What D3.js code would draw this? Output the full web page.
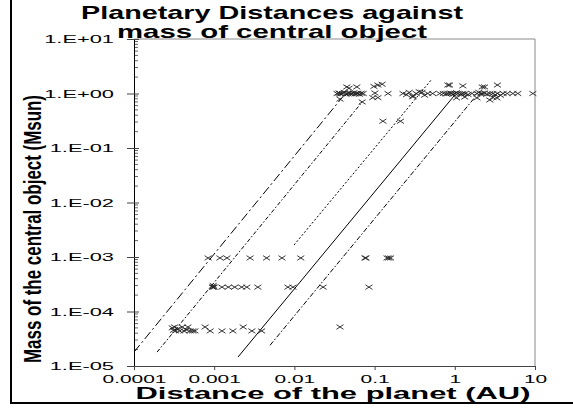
<!DOCTYPE html>
<html>
<head>
<meta charset="utf-8">
<script src="https://cdn.jsdelivr.net/npm/d3@7"></script>
<style>
  body { margin: 0; background: #fff; }
  svg { font-family: Arial, "Liberation Sans", sans-serif; }
</style>
</head>
<body>
<div id="chart"></div>
<script>
// axis ticks
var xTicks = [0.0001, 0.001, 0.01, 0.1, 1, 10];
var xTickLabels = ["0.0001", "0.001", "0.01", "0.1", "1", "10"];
var yTicks = [1e-5, 1e-4, 1e-3, 1e-2, 1e-1, 1, 10];
var yTickLabels = ["1.E-05", "1.E-04", "1.E-03", "1.E-02", "1.E-01", "1.E+00", "1.E+01"];

// planets: [distance (AU), mass of central object (Msun)]
var solarHosts = [
  [0.034,1.0],[0.036,1.02],[0.037,1.0],[0.038,0.98],[0.040,1.0],[0.042,1.05],[0.044,0.97],[0.046,1.0],
  [0.048,1.02],[0.050,0.99],[0.052,1.0],[0.055,1.03],[0.057,0.98],[0.060,1.0],[0.062,1.0],[0.065,0.97],
  [0.068,1.01],[0.072,1.0],[0.045,1.32],[0.048,1.25],[0.060,1.32],[0.037,0.79],[0.070,0.70],
  [0.101,1.02],[0.110,1.43],[0.124,1.48],[0.147,1.0],[0.095,0.84],[0.110,0.84],[0.098,1.35],
  [0.226,1.0],[0.25,0.95],[0.27,1.05],[0.30,0.9],[0.30,0.87],[0.33,1.0],[0.36,1.08],[0.39,1.05],
  [0.42,0.93],[0.46,1.0],[0.53,1.0],
  [0.65,1.0],[0.72,1.0],[0.78,0.98],[0.82,1.0],[0.88,1.02],[0.91,1.0],[0.95,0.97],[1.0,1.0],
  [1.05,1.03],[1.1,1.0],[1.2,0.98],[1.26,1.0],[1.35,1.0],[1.46,0.96],[1.64,1.0],
  [0.82,1.43],[0.86,1.43],[1.26,1.38],[1.05,0.83],[1.33,0.86],
  [1.89,1.0],[2.0,1.05],[2.1,0.98],[2.2,1.0],[2.35,1.02],[2.5,0.97],[2.73,1.0],[2.98,1.0],
  [3.2,0.95],[3.4,1.0],[3.7,0.93],[4.0,1.0],[2.2,1.32],[2.35,1.32],[3.4,1.43],[1.89,0.83],
  [2.73,0.76],[2.98,0.85],[3.35,0.83],[4.5,1.0],[5.3,1.0],[6.1,1.0],[9.4,1.0],
  [0.127,0.31],[0.21,0.31]
];
var jupiterHosts = [
  [8.4e-4,9.6e-4],[1.18e-3,9.6e-4],[1.44e-3,9.6e-4],[2.8e-3,9.6e-4],[4.5e-3,9.6e-4],[7.0e-3,9.6e-4],
  [0.012,9.6e-4],[0.076,9.6e-4],[0.078,9.6e-4],[0.143,9.6e-4],[0.150,9.6e-4],[0.158,9.6e-4]
];
var saturnHosts = [
  [9.5e-4,2.8e-4],[9.7e-4,2.8e-4],[9.7e-4,3.0e-4],[1.0e-3,2.8e-4],[1.25e-3,2.8e-4],[1.5e-3,2.8e-4],
  [1.8e-3,2.8e-4],[2.2e-3,2.8e-4],[2.55e-3,2.8e-4],[3.5e-3,2.8e-4],[8.3e-3,2.8e-4],[9.6e-3,2.8e-4],
  [0.0228,2.8e-4],[0.085,2.8e-4]
];
var smallHosts = [
  [3.0e-4,5.0e-5],[3.1e-4,4.5e-5],[3.2e-4,5.2e-5],[3.3e-4,4.4e-5],[3.5e-4,4.8e-5],[3.7e-4,4.4e-5],
  [4.0e-4,5.2e-5],[4.2e-4,4.4e-5],[4.5e-4,4.6e-5],[4.7e-4,5.2e-5],[5.0e-4,4.4e-5],[5.4e-4,4.4e-5],
  [5.75e-4,4.4e-5],[7.7e-4,5.2e-5],[8.9e-4,4.4e-5],[1.25e-3,4.4e-5],[1.71e-3,4.4e-5],[2.3e-3,5.2e-5],
  [2.95e-3,4.4e-5],[3.9e-3,4.4e-5],[0.037,5.2e-5]
];

// reference lines, end points [distance, mass]
var lineA = [[1.0e-4,1.8e-5],[0.039,0.83]];
var lineB = [[1.94e-4,1.8e-5],[0.070,0.70]];
var lineC = [[0.0099,1.66e-3],[0.52,1.85]];
var lineD = [[1.98e-3,1.46e-5],[1.0,0.94]];
var lineE = [[4.97e-3,2.4e-5],[1.79,0.86]];

var W = 573, H = 410;
var svg = d3.select("#chart").append("svg").attr("width", W).attr("height", H);

var x = d3.scaleLog().domain([1e-4, 10]).range([134, 535]);
var y = d3.scaleLog().domain([1e-5, 10]).range([366, 39]);
var sx = 1.9; // horizontal stretch of the tick lettering

// outer frame (left and bottom only)
svg.append("path").attr("d", "M11,0V403H573")
  .style("fill", "none").style("stroke", "#000").style("stroke-width", 2);

// plot area frame top / right
svg.append("path").attr("d", "M" + x(1e-4) + "," + y(10) + "H" + x(10) + "V" + y(1e-5))
  .style("fill", "none").style("stroke", "#8a8a8a").style("stroke-width", 1);

// minor y ticks
var minor = [];
yTicks.slice(0, -1).forEach(function(d) { for (var k = 2; k <= 9; k++) minor.push(d * k); });
svg.append("g").selectAll("line").data(minor).enter().append("line")
  .attr("x1", x(1e-4)).attr("x2", x(1e-4) + 4)
  .attr("y1", function(d) { return y(d); }).attr("y2", function(d) { return y(d); })
  .style("stroke", "#666").style("stroke-width", 1);

// x axis
var gx = svg.append("g").attr("transform", "translate(0," + y(1e-5) + ")")
  .call(d3.axisBottom(x).tickValues(xTicks).tickSize(4).tickSizeOuter(0)
    .tickFormat(function(d, i) { return xTickLabels[i]; }));
gx.select(".domain").style("stroke", "#444");
gx.selectAll(".tick line").style("stroke", "#444");
gx.selectAll("text").attr("y", 9.5).style("font-size", "11px").style("fill", "#000")
  .attr("transform", "scale(" + sx + ",1)");

// y axis
var gy = svg.append("g").attr("transform", "translate(" + x(1e-4) + ",0)")
  .call(d3.axisLeft(y).tickValues(yTicks).tickSize(7).tickSizeOuter(0)
    .tickFormat(function(d, i) { return yTickLabels[i]; }));
gy.select(".domain").style("stroke", "#000");
gy.selectAll(".tick line").attr("x2", -7).attr("x1", 5).style("stroke", "#444");
gy.selectAll("text").attr("x", -20 / sx).style("font-size", "11.5px").style("fill", "#000")
  .attr("transform", "scale(" + sx + ",1)");

// reference lines
var line = d3.line().x(function(d) { return x(d[0]); }).y(function(d) { return y(d[1]); });
var refLines = [
  {pts: lineA, dash: "9,3,2,3"},
  {pts: lineB, dash: "4,2,1.5,2"},
  {pts: lineC, dash: "2,2"},
  {pts: lineD, dash: null},
  {pts: lineE, dash: "5,2,1.5,2"}
];
refLines.forEach(function(l) {
  svg.append("path").datum(l.pts).attr("d", line)
    .style("fill", "none").style("stroke", "#000").style("stroke-width", 1)
    .style("stroke-dasharray", l.dash);
});

// planet markers (x crosses)
var allPts = solarHosts.concat(jupiterHosts, saturnHosts, smallHosts);
svg.append("g").selectAll("path").data(allPts).enter().append("path")
  .attr("transform", function(d) { return "translate(" + x(d[0]) + "," + y(d[1]) + ")"; })
  .attr("d", "M-3.5,-2.3L3.5,2.3M-3.5,2.3L3.5,-2.3")
  .style("fill", "none").style("stroke", "#222").style("stroke-width", 0.9);

// titles
svg.append("text").attr("x", 272).attr("y", 18.5).attr("text-anchor", "middle")
  .attr("textLength", 382).attr("lengthAdjust", "spacingAndGlyphs")
  .style("font-size", "19px").style("font-weight", "bold")
  .text("Planetary Distances against");
svg.append("text").attr("x", 272).attr("y", 37.5).attr("text-anchor", "middle")
  .attr("textLength", 310).attr("lengthAdjust", "spacingAndGlyphs")
  .style("font-size", "19px").style("font-weight", "bold")
  .text("mass of central object");
svg.append("text").attr("x", 333).attr("y", 398.5).attr("text-anchor", "middle")
  .attr("textLength", 395).attr("lengthAdjust", "spacingAndGlyphs")
  .style("font-size", "16px").style("font-weight", "bold")
  .text("Distance of the planet (AU)");
svg.append("text").attr("transform", "translate(41,229) scale(1.6,1) rotate(-90)")
  .attr("text-anchor", "middle")
  .attr("textLength", 268).attr("lengthAdjust", "spacingAndGlyphs")
  .style("font-size", "15px").style("font-weight", "bold")
  .text("Mass of the central object (Msun)");
</script>
</body>
</html>
